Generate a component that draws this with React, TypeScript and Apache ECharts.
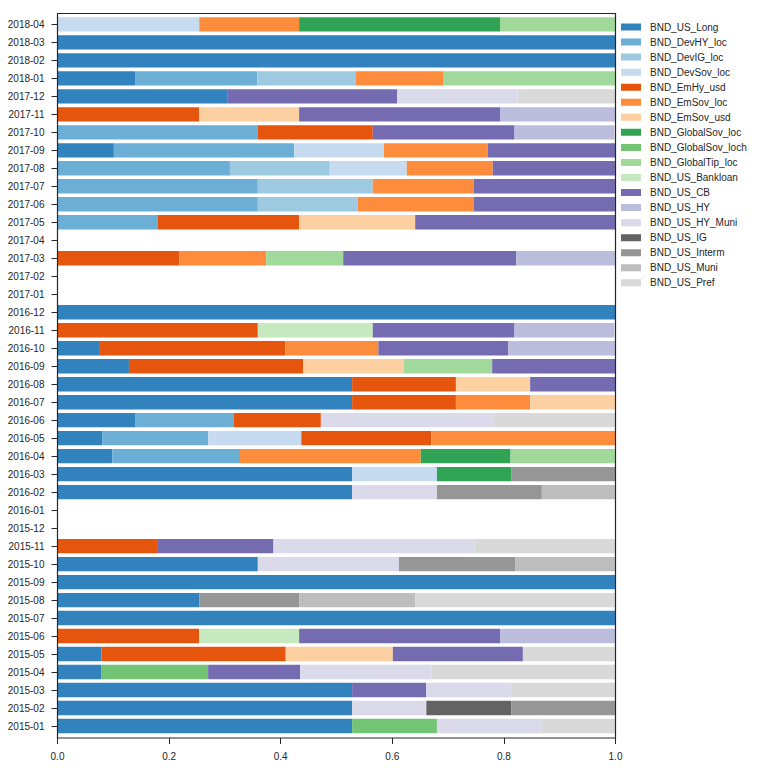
import React, { useEffect, useRef } from "react";
import * as echarts from "echarts";

const months = [
  "2015-01", "2015-02", "2015-03", "2015-04", "2015-05", "2015-06", "2015-07", "2015-08", "2015-09", "2015-10", "2015-11", "2015-12",
  "2016-01", "2016-02", "2016-03", "2016-04", "2016-05", "2016-06", "2016-07", "2016-08", "2016-09", "2016-10", "2016-11", "2016-12",
  "2017-01", "2017-02", "2017-03", "2017-04", "2017-05", "2017-06", "2017-07", "2017-08", "2017-09", "2017-10", "2017-11", "2017-12",
  "2018-01", "2018-02", "2018-03", "2018-04",
];

const xTicks = [0, 0.2, 0.4, 0.6, 0.8, 1.0];

// one array per series, ordered as months (2015-01 .. 2018-04)
const BND_US_Long = [
  0.528, 0.528, 0.528, 0.078, 0.079, 0, 1, 0.254, 1, 0.359, 0, 0,
  0, 0.528, 0.528, 0.098, 0.080, 0.139, 0.528, 0.528, 0.128, 0.076, 0, 1,
  0, 0, 0, 0, 0, 0, 0, 0, 0.101, 0, 0, 0.304,
  0.139, 1, 1, 0,
];
const BND_DevHY_loc = [
  0, 0, 0, 0, 0, 0, 0, 0, 0, 0, 0, 0,
  0, 0, 0, 0.229, 0.190, 0.177, 0, 0, 0, 0, 0, 0,
  0, 0, 0, 0, 0.180, 0.359, 0.359, 0.309, 0.323, 0.359, 0, 0,
  0.219, 0, 0, 0,
];
const BND_DevIG_loc = [
  0, 0, 0, 0, 0, 0, 0, 0, 0, 0, 0, 0,
  0, 0, 0, 0, 0, 0, 0, 0, 0, 0, 0, 0,
  0, 0, 0, 0, 0, 0.179, 0.206, 0.179, 0, 0, 0, 0,
  0.177, 0, 0, 0,
];
const BND_DevSov_loc = [
  0, 0, 0, 0, 0, 0, 0, 0, 0, 0, 0, 0,
  0, 0, 0.152, 0, 0.167, 0, 0, 0, 0, 0, 0, 0,
  0, 0, 0, 0, 0, 0, 0, 0.138, 0.161, 0, 0, 0,
  0, 0, 0, 0.254,
];
const BND_EmHy_usd = [
  0, 0, 0, 0, 0.330, 0.254, 0, 0, 0, 0, 0.180, 0,
  0, 0, 0, 0, 0.233, 0.156, 0.186, 0.186, 0.312, 0.332, 0.359, 0,
  0, 0, 0.218, 0, 0.253, 0, 0, 0, 0, 0.206, 0.254, 0,
  0, 0, 0, 0,
];
const BND_EmSov_loc = [
  0, 0, 0, 0, 0, 0, 0, 0, 0, 0, 0, 0,
  0, 0, 0, 0.324, 0.330, 0, 0.133, 0, 0, 0.167, 0, 0,
  0, 0, 0.156, 0, 0, 0.208, 0.181, 0.154, 0.186, 0, 0, 0,
  0.156, 0, 0, 0.179,
];
const BND_EmSov_usd = [
  0, 0, 0, 0, 0.192, 0, 0, 0, 0, 0, 0, 0,
  0, 0, 0, 0, 0, 0, 0.153, 0.133, 0.181, 0, 0, 0,
  0, 0, 0, 0, 0.208, 0, 0, 0, 0, 0, 0.179, 0,
  0, 0, 0, 0,
];
const BND_GlobalSov_loc = [
  0, 0, 0, 0, 0, 0, 0, 0, 0, 0, 0, 0,
  0, 0, 0.133, 0.161, 0, 0, 0, 0, 0, 0, 0, 0,
  0, 0, 0, 0, 0, 0, 0, 0, 0, 0, 0, 0,
  0, 0, 0, 0.360,
];
const BND_GlobalSov_loch = [
  0.152, 0, 0, 0.192, 0, 0, 0, 0, 0, 0, 0, 0,
  0, 0, 0, 0, 0, 0, 0, 0, 0, 0, 0, 0,
  0, 0, 0, 0, 0, 0, 0, 0, 0, 0, 0, 0,
  0, 0, 0, 0,
];
const BND_GlobalTip_loc = [
  0, 0, 0, 0, 0, 0, 0, 0, 0, 0, 0, 0,
  0, 0, 0, 0.187, 0, 0, 0, 0, 0.158, 0, 0, 0,
  0, 0, 0.138, 0, 0, 0, 0, 0, 0, 0, 0, 0,
  0.309, 0, 0, 0.207,
];
const BND_US_Bankloan = [
  0, 0, 0, 0, 0, 0.179, 0, 0, 0, 0, 0, 0,
  0, 0, 0, 0, 0, 0, 0, 0, 0, 0, 0.206, 0,
  0, 0, 0, 0, 0, 0, 0, 0, 0, 0, 0, 0,
  0, 0, 0, 0,
];
const BND_US_CB = [
  0, 0, 0.133, 0.165, 0.233, 0.360, 0, 0, 0, 0, 0.207, 0,
  0, 0, 0, 0, 0, 0, 0, 0.153, 0.221, 0.233, 0.254, 0,
  0, 0, 0.310, 0, 0.359, 0.253, 0.253, 0.219, 0.229, 0.254, 0.360, 0.305,
  0, 0, 0, 0,
];
const BND_US_HY = [
  0, 0, 0, 0, 0, 0.207, 0, 0, 0, 0, 0, 0,
  0, 0, 0, 0, 0, 0, 0, 0, 0, 0.192, 0.179, 0,
  0, 0, 0.178, 0, 0, 0, 0, 0, 0, 0.179, 0.207, 0,
  0, 0, 0, 0,
];
const BND_US_HY_Muni = [
  0.188, 0.133, 0.152, 0.235, 0, 0, 0, 0, 0, 0.253, 0.360, 0,
  0, 0.152, 0, 0, 0, 0.308, 0, 0, 0, 0, 0, 0,
  0, 0, 0, 0, 0, 0, 0, 0, 0, 0, 0, 0.215,
  0, 0, 0, 0,
];
const BND_US_IG = [
  0, 0.152, 0, 0, 0, 0, 0, 0, 0, 0, 0, 0,
  0, 0, 0, 0, 0, 0, 0, 0, 0, 0, 0, 0,
  0, 0, 0, 0, 0, 0, 0, 0, 0, 0, 0, 0,
  0, 0, 0, 0,
];
const BND_US_Interm = [
  0, 0.187, 0, 0, 0, 0, 0, 0.179, 0, 0.208, 0, 0,
  0, 0.188, 0.187, 0, 0, 0, 0, 0, 0, 0, 0, 0,
  0, 0, 0, 0, 0, 0, 0, 0, 0, 0, 0, 0,
  0, 0, 0, 0,
];
const BND_US_Muni = [
  0, 0, 0, 0, 0, 0, 0, 0.208, 0, 0.179, 0, 0,
  0, 0.131, 0, 0, 0, 0, 0, 0, 0, 0, 0, 0,
  0, 0, 0, 0, 0, 0, 0, 0, 0, 0, 0, 0,
  0, 0, 0, 0,
];
const BND_US_Pref = [
  0.131, 0, 0.187, 0.330, 0.165, 0, 0, 0.358, 0, 0, 0.253, 0,
  0, 0, 0, 0, 0, 0.219, 0, 0, 0, 0, 0, 0,
  0, 0, 0, 0, 0, 0, 0, 0, 0, 0, 0, 0.176,
  0, 0, 0, 0,
];

const seriesNames = [
  "BND_US_Long", "BND_DevHY_loc", "BND_DevIG_loc", "BND_DevSov_loc", "BND_EmHy_usd",
  "BND_EmSov_loc", "BND_EmSov_usd", "BND_GlobalSov_loc", "BND_GlobalSov_loch", "BND_GlobalTip_loc",
  "BND_US_Bankloan", "BND_US_CB", "BND_US_HY", "BND_US_HY_Muni", "BND_US_IG",
  "BND_US_Interm", "BND_US_Muni", "BND_US_Pref",
];
const seriesValues = [
  BND_US_Long, BND_DevHY_loc, BND_DevIG_loc, BND_DevSov_loc, BND_EmHy_usd,
  BND_EmSov_loc, BND_EmSov_usd, BND_GlobalSov_loc, BND_GlobalSov_loch, BND_GlobalTip_loc,
  BND_US_Bankloan, BND_US_CB, BND_US_HY, BND_US_HY_Muni, BND_US_IG,
  BND_US_Interm, BND_US_Muni, BND_US_Pref,
];
const seriesColors = [
  "#3182bd", "#6baed6", "#9ecae1", "#c6dbef", "#e6550d",
  "#fd8d3c", "#fdd0a2", "#31a354", "#74c476", "#a1d99b",
  "#c7e9c0", "#756bb1", "#bcbddc", "#dadaeb", "#636363",
  "#969696", "#bdbdbd", "#d9d9d9",
];

const FONT = "'Liberation Sans', Arial, sans-serif";
const INK = "#262626";

export default function App() {
  const ref = useRef<HTMLDivElement>(null);
  useEffect(() => {
    const chart = echarts.init(ref.current!, null, { renderer: "svg" });
    chart.setOption({
      animation: false,
      backgroundColor: "#ffffff",
      textStyle: { fontFamily: FONT },
      grid: { left: 57.5, right: 141.5, top: 15.4, bottom: 33, containLabel: false },
      legend: {
        orient: "vertical",
        left: 616,
        top: 17,
        padding: 5,
        itemWidth: 24,
        itemHeight: 7,
        itemGap: 5.05,
        icon: "path://M0,0H20V7H0Z M24,0L24,7",
        data: seriesNames,
        textStyle: { fontSize: 10, color: INK, fontFamily: FONT },
      },
      xAxis: {
        type: "value",
        min: xTicks[0],
        max: xTicks[xTicks.length - 1],
        interval: 0.2,
        offset: 3,
        axisLine: { show: false },
        axisTick: { show: true, length: 6, lineStyle: { color: INK, width: 1 } },
        axisLabel: {
          fontSize: 10,
          color: INK,
          margin: 13,
          formatter: (v: number) => v.toFixed(1),
        },
        splitLine: { show: false },
      },
      yAxis: {
        type: "category",
        data: months,
        axisLine: { show: false },
        axisTick: { show: true, alignWithLabel: true, length: 6, lineStyle: { color: INK, width: 1 } },
        axisLabel: { fontSize: 10, color: INK, margin: 13 },
        splitLine: { show: false },
      },
      graphic: [
        {
          type: "rect",
          z: 100,
          silent: true,
          shape: { x: 57.5, y: 13.5, width: 558, height: 724.5 },
          style: { fill: "none", stroke: INK, lineWidth: 1.2 },
        },
      ],
      series: seriesNames.map((name, i) => ({
        name,
        type: "bar",
        stack: "total",
        barCategoryGap: "20%",
        data: seriesValues[i],
        itemStyle: { color: seriesColors[i] },
        emphasis: { disabled: true },
      })),
    });
    return () => chart.dispose();
  }, []);
  return (
    <div
      ref={ref}
      style={{ position: "fixed", left: 0, top: 0, width: 757, height: 768, background: "#fff" }}
    />
  );
}
